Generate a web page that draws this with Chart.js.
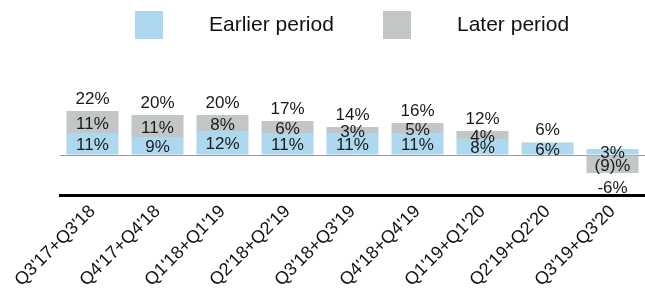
<!DOCTYPE html>
<html>
<head>
<meta charset="utf-8">
<script src="https://cdn.jsdelivr.net/npm/chart.js@4"></script>
<style>
  html, body { margin: 0; padding: 0; background: #fff; }
  #wrap { width: 645px; height: 292px; }
</style>
</head>
<body>
<div id="wrap"><canvas id="chart" width="645" height="292"></canvas></div>
<script>
// Chart data
var periods = ["Q3'17+Q3'18", "Q4'17+Q4'18", "Q1'18+Q1'19", "Q2'18+Q2'19", "Q3'18+Q3'19",
               "Q4'18+Q4'19", "Q1'19+Q1'20", "Q2'19+Q2'20", "Q3'19+Q3'20"];
var earlierValues = [11, 9, 12, 11, 11, 11, 8, 6, 3];
var laterValues = [11, 11, 8, 6, 3, 5, 4, 0.3, -9];
var laterLabels = ['11%', '11%', '8%', '6%', '3%', '5%', '4%', '', '(9)%'];
var totalLabels = ['22%', '20%', '20%', '17%', '14%', '16%', '12%', '6%', '-6%'];

var FONT = '"Liberation Sans", Arial, sans-serif';

// Draws the value labels inside the segments and the totals above / below each bar
var barLabels = {
    id: 'barLabels',
    afterDatasetsDraw: function (chart) {
        var ctx = chart.ctx;
        ctx.save();
        ctx.font = '17px ' + FONT;
        ctx.fillStyle = '#1a1a1a';
        ctx.textAlign = 'center';
        ctx.textBaseline = 'middle';

        var earlierMeta = chart.getDatasetMeta(0);
        var laterMeta = chart.getDatasetMeta(1);

        periods.forEach(function (p, i) {
            var eb = earlierMeta.data[i];
            var lb = laterMeta.data[i];
            ctx.fillText(earlierValues[i] + '%', eb.x, (eb.y + eb.base) / 2 + 2);
            if (laterLabels[i]) {
                ctx.fillText(laterLabels[i], lb.x, (lb.y + lb.base) / 2 + 2);
            }
            var top = Math.min(eb.y, eb.base, lb.y, lb.base);
            var bottom = Math.max(eb.y, eb.base, lb.y, lb.base);
            var total = earlierValues[i] + laterValues[i];
            if (total >= 0) {
                ctx.fillText(totalLabels[i], eb.x, top - 12);
            } else {
                ctx.fillText(totalLabels[i], eb.x, bottom + 15);
            }
        });
        ctx.restore();
    }
};

// Simple legend with big square boxes drawn at the top
var topLegend = {
    id: 'topLegend',
    afterDraw: function (chart) {
        var ctx = chart.ctx;
        var items = [
            { x: 135, ds: chart.data.datasets[0] },
            { x: 383, ds: chart.data.datasets[1] }
        ];
        ctx.save();
        ctx.font = '21px ' + FONT;
        ctx.textBaseline = 'middle';
        ctx.textAlign = 'left';
        items.forEach(function (it) {
            ctx.fillStyle = it.ds.backgroundColor;
            ctx.fillRect(it.x, 11, 28, 28);
            ctx.fillStyle = '#111';
            ctx.fillText(it.ds.label, it.x + 74, 25);
        });
        ctx.restore();
    }
};

new Chart(document.getElementById('chart').getContext('2d'), {
    type: 'bar',
    data: {
        labels: periods,
        datasets: [{
            label: 'Earlier period',
            data: earlierValues,
            backgroundColor: '#aed8f0'
        }, {
            label: 'Later period',
            data: laterValues,
            backgroundColor: '#c2c6c6'
        }]
    },
    options: {
        responsive: false,
        animation: false,
        layout: {
            padding: { top: 95, left: 60, right: 0, bottom: 0 }
        },
        datasets: {
            bar: {
                categoryPercentage: 1,
                barPercentage: 0.8
            }
        },
        plugins: {
            legend: { display: false },
            tooltip: { enabled: false }
        },
        scales: {
            x: {
                stacked: true,
                grid: { display: false, drawTicks: false },
                border: { display: true, color: '#000', width: 3 },
                ticks: {
                    minRotation: 45,
                    maxRotation: 45,
                    padding: 6,
                    color: '#111',
                    font: { family: FONT, size: 18 }
                },
                afterFit: function (scale) {
                    scale.height = 97;
                }
            },
            y: {
                stacked: true,
                min: -20,
                max: 30,
                ticks: { display: false, stepSize: 10 },
                border: { display: false },
                grid: {
                    drawTicks: false,
                    color: function (c) {
                        return c.tick && c.tick.value === 0 ? '#999' : 'rgba(0,0,0,0)';
                    },
                    lineWidth: 1
                },
                afterFit: function (scale) {
                    scale.width = 0;
                }
            }
        }
    },
    plugins: [barLabels, topLegend]
});
</script>
</body>
</html>
